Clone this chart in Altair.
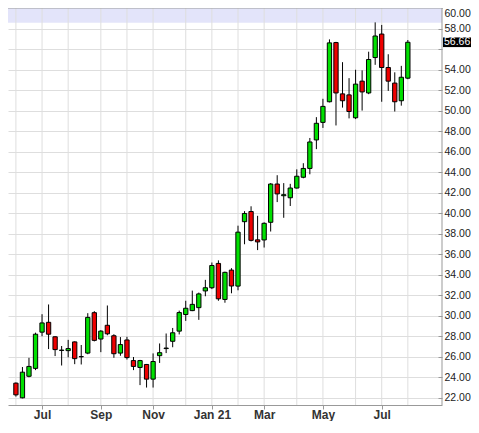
import altair as alt
import numpy as np
import pandas as pd

# ---- data (weekly candles) ----
start_week = "2020-06-08"
n_weeks = 61
opens = [23.43, 22.00, 24.10, 24.87, 28.40, 29.36, 27.95, 26.62, 26.60, 27.45,
         26.00, 26.36, 30.30, 27.73, 29.07, 28.05, 26.36, 27.64, 25.63, 24.96,
         25.25, 23.82, 26.11, 26.80, 27.51, 28.50, 30.12, 30.50, 30.79, 32.42,
         32.73, 35.10, 31.59, 34.45, 32.89, 39.17, 40.16, 37.40, 37.39, 39.11,
         42.84, 41.70, 41.50, 42.45, 43.50, 44.36, 47.14, 48.85, 50.86, 56.63,
         51.63, 51.53, 49.30, 52.87, 51.72, 55.17, 57.46, 54.20, 52.68, 50.96,
         53.16]
highs = [23.50, 25.00, 25.90, 28.35, 30.15, 31.10, 28.00, 27.05, 27.65, 27.50,
         27.15, 30.25, 30.45, 28.60, 31.00, 28.20, 27.92, 27.95, 25.98, 25.70,
         25.30, 26.33, 27.30, 28.27, 28.81, 30.50, 31.46, 32.45, 32.26, 33.50,
         35.19, 35.40, 34.30, 34.64, 38.78, 40.20, 40.67, 39.74, 39.11, 42.93,
         43.70, 42.93, 42.86, 44.27, 44.87, 47.33, 49.36, 51.15, 56.94, 56.70,
         54.72, 53.16, 53.98, 53.92, 55.74, 58.60, 58.35, 55.49, 53.73, 54.36,
         56.88]
lows = [22.12, 21.95, 24.00, 24.70, 28.00, 26.75, 26.07, 25.15, 25.95, 25.28,
        25.25, 26.25, 27.50, 26.45, 28.10, 25.90, 26.10, 25.73, 24.70, 23.24,
        23.00, 23.00, 25.40, 26.36, 26.93, 28.18, 29.50, 30.45, 29.60, 31.90,
        32.60, 31.46, 31.27, 32.19, 32.48, 36.97, 37.25, 36.40, 36.65, 38.21,
        41.08, 39.55, 40.70, 42.40, 43.40, 43.79, 46.24, 48.31, 50.80, 48.55,
        50.29, 49.24, 49.17, 50.00, 51.60, 54.46, 50.86, 51.92, 49.91, 50.48,
        53.06]
closes = [22.29, 24.50, 25.06, 28.20, 29.30, 28.20, 26.70, 26.65, 26.80, 25.82,
          26.02, 29.84, 27.60, 28.50, 28.24, 26.30, 27.19, 25.92, 25.06, 25.63,
          23.82, 25.54, 26.40, 26.85, 28.34, 30.31, 30.73, 31.11, 32.13, 32.73,
          34.90, 31.65, 34.23, 32.90, 38.15, 39.97, 37.35, 37.20, 39.01, 42.84,
          41.88, 41.80, 42.45, 43.60, 44.36, 46.94, 48.76, 50.41, 56.60, 51.72,
          50.96, 49.91, 52.58, 51.82, 54.98, 57.27, 54.20, 52.87, 50.86, 53.25,
          56.66]
y_ticks = list(range(22, 62, 2))
band_range = [58.55, 60.0]
y_domain = [21.3, 60.0]

W, H = 434, 397
PAD_R, PAD_B = 29, 16
GREEN, RED = "#00e000", "#ee0000"
GRID = "#dedede"
AXIS = "#999999"

dates = pd.date_range(start_week, periods=n_weeks, freq="7D")
df = pd.DataFrame({"date": dates, "open": opens, "high": highs,
                   "low": lows, "close": closes})
df["dir"] = np.where(df["close"] >= df["open"], "up", "down")

# first candle of each month -> gridlines; odd months -> labels
month_first = df.groupby(df["date"].dt.to_period("M"))["date"].min().tolist()
label_dates = [d for d in month_first if d.month % 2 == 1]


def dt(ts):
    return alt.DateTime(year=ts.year, month=ts.month, date=ts.day, hours=ts.hour)


x_domain = [dt(pd.Timestamp("2020-06-04 21:00")), dt(pd.Timestamp("2021-09-02 06:00"))]
xscale = alt.Scale(domain=x_domain)
yscale = alt.Scale(domain=y_domain, nice=False, zero=False)

last = closes[-1]

x_axis = alt.Axis(values=[dt(d) for d in label_dates],
                  labelExpr="month(datum.value) == 0 ? timeFormat(datum.value, '%b %y') : timeFormat(datum.value, '%b')",
                  grid=False, tickSize=4, tickColor=AXIS, domainColor=AXIS,
                  labelFontSize=12, labelFontWeight="bold", labelColor="#333333",
                  labelFont="Liberation Sans", labelPadding=0, title=None)
y_axis = alt.Axis(orient="right", values=y_ticks, offset=-4, domain=False,
                  labelExpr=f"abs(datum.value - {last}) < 0.9 ? '' : format(datum.value, '.2f')",
                  gridColor=GRID, tickSize=4, tickColor=AXIS,
                  labelFontSize=10.5, labelColor="#222222", labelFont="Liberation Sans",
                  labelPadding=2, labelFlush=True, title=None)


def X(field):
    return alt.X(field, scale=xscale, axis=x_axis, title=None)


def Y(field):
    return alt.Y(field, scale=yscale, axis=y_axis, title=None)


band = alt.Chart(pd.DataFrame({"lo": [band_range[0]], "hi": [band_range[1]]})).mark_rect(
    color="#e3e4fa").encode(y=Y("lo:Q"), y2="hi:Q")

vgrid = alt.Chart(pd.DataFrame({"date": month_first})).mark_rule(
    color=GRID, strokeWidth=1).encode(x=X("date:T"))

top_border = alt.Chart(pd.DataFrame({"v": [y_domain[1]]})).mark_rule(
    color=AXIS, strokeWidth=1).encode(y=Y("v:Q"))

wicks = alt.Chart(df).mark_rule(color="black", strokeWidth=1).encode(
    x=X("date:T"), y=Y("low:Q"), y2="high:Q")

bodies = alt.Chart(df).mark_bar(width=4.3, stroke="black", strokeWidth=1).encode(
    x=X("date:T"), y=Y("open:Q"), y2="close:Q",
    color=alt.Color("dir:N", scale=alt.Scale(domain=["up", "down"], range=[GREEN, RED]),
                    legend=None))

price_df = pd.DataFrame({"v": [last], "lo": [last - 0.47], "hi": [last + 0.47],
                         "txt": [f"{last:.2f}"]})
price_box = alt.Chart(price_df).mark_rect(color="black").encode(
    x=alt.value(W + 1), x2=alt.value(W + PAD_R), y=Y("lo:Q"), y2="hi:Q")
price_txt = alt.Chart(price_df).mark_text(
    color="white", align="left", baseline="middle", fontSize=10.5, font="Liberation Sans").encode(
    x=alt.value(W + 2), y=Y("v:Q"), text="txt:N")

right_border = alt.Chart(price_df).mark_rule(color=AXIS, strokeWidth=1).encode(
    x=alt.value(W), y=alt.value(0), y2=alt.value(H))

chart = alt.layer(band, vgrid, top_border, wicks, bodies, price_box, price_txt,
                  right_border).properties(
    width=W, height=H,
    autosize=alt.AutoSizeParams(type="none"),
    padding={"left": 0, "top": 0, "right": PAD_R, "bottom": PAD_B},
).configure_view(stroke=None)

chart.save("out.html", embed_options={"renderer": "svg", "actions": False})
